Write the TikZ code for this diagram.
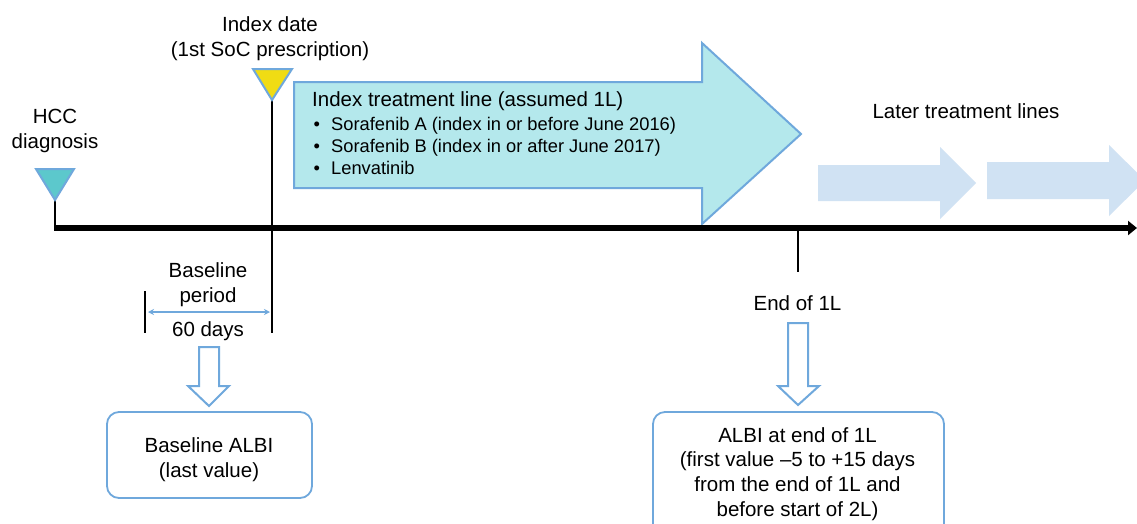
\documentclass[tikz,border=0pt]{standalone}
\usepackage{fontspec}
\setmainfont{Liberation Sans}
\usetikzlibrary{arrows.meta}
\definecolor{edgeblue}{RGB}{111,168,220}
\definecolor{tealfill}{RGB}{92,200,204}
\definecolor{yellowfill}{RGB}{240,220,20}
\definecolor{cyanfill}{RGB}{180,232,236}
\definecolor{paleblue}{RGB}{208,226,243}
\begin{document}
\begin{tikzpicture}[x=1pt,y=-1pt,
  lbl/.style={font=\fontsize{20.5}{24.7}\selectfont, align=center, inner sep=0pt},
  bul/.style={font=\fontsize{18.3}{22}\selectfont, inner sep=0pt, anchor=base west},
  tick/.style={line width=2pt, black},
  marker/.style={draw=edgeblue, line width=2pt, line join=miter},
  hollow/.style={draw=edgeblue, line width=2pt, fill=white, line join=miter},
  infobox/.style={draw=edgeblue, line width=1.8pt, rounded corners=12pt, fill=white}]
\clip (0,0) rectangle (1137,523);
\fill[white] (0,0) rectangle (1137,523);

% coordinates
\coordinate (hcctip) at (55,200);
\coordinate (hccaxis) at (55,228);
\coordinate (idxtip) at (272,100);
\coordinate (idxbot) at (272,333);
\coordinate (axisstart) at (54,228);
\coordinate (axisend) at (1137,228);
\coordinate (endtop) at (798,228);
\coordinate (endbot) at (798,272);
\coordinate (bltop) at (145,291);
\coordinate (blbot) at (145,333);
\coordinate (blL) at (148,312);
\coordinate (blR) at (270,312);

% later treatment arrows
\fill[paleblue] (818,165) -- (940,165) -- (940,147) -- (976,183) -- (940,219) -- (940,201) -- (818,201) -- cycle;
\fill[paleblue] (987,162) -- (1109,162) -- (1109,145) -- (1145,180.5) -- (1109,216) -- (1109,199) -- (987,199) -- cycle;

% index treatment arrow
\draw[marker, fill=cyanfill] (294,82) -- (702,82) -- (702,43) -- (801,134) -- (702,224) -- (702,188) -- (294,188) -- cycle;

% timeline
\draw[line width=5.5pt, -{Triangle[length=9pt,width=14pt]}] (axisstart) -- (axisend);
\draw[tick] (hcctip) -- (hccaxis);
\draw[tick] (idxtip) -- (idxbot);
\draw[tick] (endtop) -- (endbot);
\draw[tick] (bltop) -- (blbot);

% triangles
\draw[marker, fill=tealfill] (36,169) -- (74,169) -- (hcctip) -- cycle;
\draw[marker, fill=yellowfill] (253,69) -- (292,69) -- (idxtip) -- cycle;

% baseline period arrow
\draw[edgeblue, line width=1.4pt, {Stealth[length=6pt,width=6pt]}-{Stealth[length=6pt,width=6pt]}] (blL) -- (blR);

% hollow down arrows
\draw[hollow] (199,347) -- (219,347) -- (219,386) -- (229,386) -- (209,406) -- (188,386) -- (199,386) -- cycle;
\draw[hollow] (788,323) -- (808,323) -- (808,386) -- (819,386) -- (798,405) -- (778,386) -- (788,386) -- cycle;

% boxes
\draw[infobox] (107,412) rectangle (312,498);
\draw[infobox] (653,412) rectangle (944,540);

% labels
\node[lbl] (hcc) at (55,131) {HCC\\diagnosis};
\node[lbl] (idxdate) at (270,39) {Index date\\(1st SoC prescription)};
\node[lbl, anchor=base west] (arrtitle) at (312,106) {Index treatment line (assumed 1L)};
\node[bul] (b1) at (312,130.7) {\makebox[19pt][l]{\hspace{1.5pt}\textbullet}Sorafenib A (index in or before June 2016)};
\node[bul] (b2) at (312,152.3) {\makebox[19pt][l]{\hspace{1.5pt}\textbullet}Sorafenib B (index in or after June 2017)};
\node[bul] (b3) at (312,174) {\makebox[19pt][l]{\hspace{1.5pt}\textbullet}Lenvatinib};
\node[lbl] (later) at (966,111.5) {Later treatment lines};
\node[lbl] (blperiod) at (208,285) {Baseline\\period};
\node[lbl] (days) at (208,331.5) {60 days};
\node[lbl] (endl) at (797.5,303) {End of 1L};
\node[lbl] (blalbi) at (209,459.5) {Baseline ALBI\\(last value)};
\node[lbl] (endalbi) at (797.5,474) {ALBI at end of 1L\\(first value –5 to +15 days\\from the end of 1L and\\before start of 2L)};
\end{tikzpicture}
\end{document}
